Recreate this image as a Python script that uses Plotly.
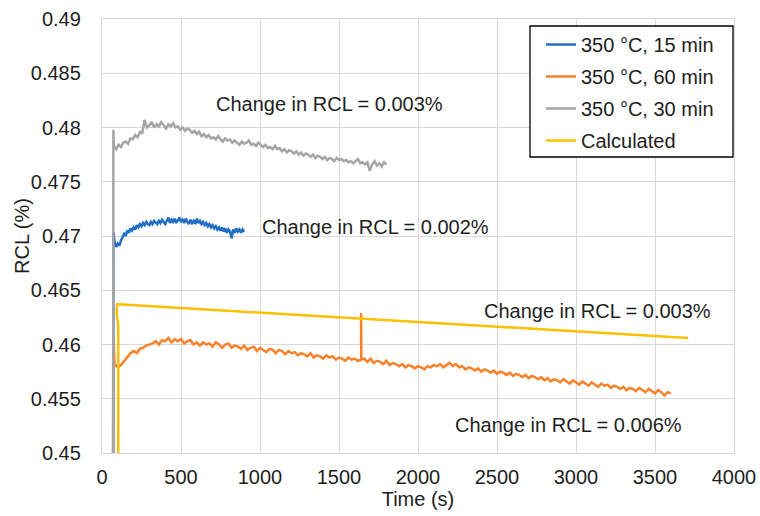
import plotly.graph_objects as go

# ---- RCL readings (%) -------------------------------------------------------
# 350 °C, 15 min : sampled every 10 s from 80 s to 900 s
blue_start, blue_end = 80, 900
blue_vals = [
    .4694, .4690, .4693, .4691, .4696, .4699, .4702, .4700, .4705, .4703,
    .4707, .4705, .4708, .4706, .4710, .4708, .4711, .4709, .4712, .4710,
    .4713, .4711, .4710, .4713, .4711, .4714, .4712, .4711, .4714, .4712,
    .4715, .4713, .4711, .4714, .4717, .4712, .4715, .4713, .4716, .4712,
    .4714, .4717, .4713, .4715, .4712, .4716, .4713, .4711, .4715, .4712,
    .4714, .4711, .4716, .4712, .4714, .4711, .4713, .4710, .4712, .4709,
    .4711, .4708, .4710, .4707, .4709, .4706, .4708, .4705, .4708, .4704,
    .4707, .4703, .4706, .4704, .4698, .4706, .4703, .4707, .4704, .4706,
    .4703, .4706, .4704,
]
blue_lead_t = [70, 72]          # heater switch-on transient
blue_lead_v = [0.440, 0.4704]

# 350 °C, 60 min : sampled every 20 s from 80 s to 3600 s
orange_start, orange_end = 80, 3600
orange_vals = [
    .4582, .4579, .4581, .4585, .4588, .4592, .4594, .4592, .4596, .4597,
    .4599, .4600, .4601, .4603, .4600, .4604, .4603, .4606, .4602, .4605,
    .4603, .4605, .4601, .4603, .4604, .4600, .4602, .4599, .4602, .4600,
    .4601, .4598, .4602, .4600, .4597, .4600, .4601, .4597, .4599, .4598,
    .4596, .4599, .4595, .4597, .4598, .4594, .4597, .4595, .4593, .4596,
    .4595, .4592, .4595, .4594, .4591, .4594, .4592, .4593, .4590, .4592,
    .4591, .4589, .4592, .4588, .4590, .4589, .4587, .4590, .4588, .4589,
    .4586, .4588, .4587, .4585, .4588, .4586, .4587, .4585, .4586, .4587,
    .4584, .4587, .4583, .4585, .4584, .4582, .4585, .4581, .4583, .4582,
    .4580, .4582, .4579, .4581, .4580, .4578, .4580, .4579, .4577, .4580,
    .4579, .4581, .4580, .4582, .4579, .4581, .4583, .4580, .4582, .4579,
    .4580, .4577, .4579, .4578, .4576, .4578, .4575, .4577, .4576, .4574,
    .4576, .4573, .4575, .4574, .4572, .4574, .4571, .4573, .4572, .4570,
    .4572, .4569, .4571, .4570, .4568, .4570, .4567, .4569, .4566, .4568,
    .4567, .4565, .4568, .4566, .4564, .4567, .4565, .4563, .4566, .4564,
    .4562, .4565, .4563, .4561, .4564, .4562, .4563, .4560, .4562, .4561,
    .4559, .4561, .4558, .4560, .4559, .4557, .4560, .4558, .4556, .4559,
    .4557, .4555, .4558, .4556, .4553, .4556, .4555,
]
orange_lead_t = [70, 72]
orange_lead_v = [0.440, 0.4606]
orange_spike_t = [1639, 1640, 1641]   # single-sample glitch in the log
orange_spike_v = [0.4586, 0.4629, 0.4586]

# 350 °C, 30 min : sampled every 15 s from 75 s to 1800 s
gray_start, gray_end = 75, 1800
gray_vals = [
    .4783, .4780, .4784, .4782, .4786, .4787, .4785, .4790, .4789, .4793,
    .4791, .4796, .4795, .4807, .4800, .4802, .4805, .4800, .4803, .4801,
    .4805, .4802, .4799, .4803, .4801, .4804, .4800, .4801, .4798, .4800,
    .4797, .4799, .4798, .4795, .4797, .4794, .4796, .4792, .4794, .4791,
    .4793, .4790, .4791, .4789, .4792, .4789, .4787, .4790, .4788, .4789,
    .4786, .4788, .4786, .4784, .4787, .4785, .4786, .4788, .4784, .4785,
    .4783, .4786, .4784, .4782, .4784, .4781, .4782, .4780, .4783, .4780,
    .4781, .4778, .4780, .4777, .4779, .4778, .4776, .4778, .4775, .4777,
    .4774, .4776, .4775, .4773, .4775, .4772, .4774, .4773, .4771, .4773,
    .4770, .4772, .4771, .4769, .4772, .4770, .4771, .4769, .4770, .4768,
    .4769, .4767, .4769, .4771, .4767, .4768, .4766, .4768, .4760, .4766,
    .4769, .4765, .4767, .4764, .4768, .4766,
]
gray_lead_t = [70, 72]
gray_lead_v = [0.440, 0.4798]

# Calculated RCL
calc_t = [103, 103, 97, 93, 94, 98, 105, 1760, 3710]
calc_v = [0.440, 0.4618, 0.4624, 0.4629, 0.4634, 0.4637, 0.4637, 0.4623, 0.4606]

# Axis ticks
x_ticks = [0, 500, 1000, 1500, 2000, 2500, 3000, 3500, 4000]
y_ticks = [0.45, 0.455, 0.46, 0.465, 0.47, 0.475, 0.48, 0.485, 0.49]
y_tick_text = ["0.45", "0.455", "0.46", "0.465", "0.47", "0.475", "0.48", "0.485", "0.49"]

# Annotations: (time, RCL, text)
notes = [
    (1437, 0.48214, "Change in RCL = 0.003%"),
    (1728, 0.47081, "Change in RCL = 0.002%"),
    (3133, 0.46308, "Change in RCL = 0.003%"),
    (2953, 0.45258, "Change in RCL = 0.006%"),
]


def time_grid(start, end, n):
    step = (end - start) / (n - 1)
    return [start + i * step for i in range(n)]


blue_t = blue_lead_t + time_grid(blue_start, blue_end, len(blue_vals))
blue_v = blue_lead_v + blue_vals

gray_t = gray_lead_t + time_grid(gray_start, gray_end, len(gray_vals))
gray_v = gray_lead_v + gray_vals

o_t = time_grid(orange_start, orange_end, len(orange_vals))
o_pairs = list(zip(o_t, orange_vals)) + list(zip(orange_spike_t, orange_spike_v))
o_pairs.sort(key=lambda p: p[0])
orange_t = orange_lead_t + [p[0] for p in o_pairs]
orange_v = orange_lead_v + [p[1] for p in o_pairs]

FONT = "Liberation Sans, Arial, sans-serif"
TXT = "#1e1e1e"
GRID = "#d9d9d9"

# plot-area frame in pixels, used to place the legend frame and y title
W, H = 760, 516
ML, MR, MT, MB = 102, 26, 19, 63
PW, PH = W - ML - MR, H - MT - MB


def px_x(p):
    return (p - ML) / PW


def px_y(p):
    return (H - MB - p) / PH


fig = go.Figure()
fig.add_trace(go.Scatter(x=blue_t, y=blue_v, mode="lines", name="350 °C, 15 min",
                         line=dict(color="#1f6fc6", width=2.5), legendgroup="a"))
fig.add_trace(go.Scatter(x=orange_t, y=orange_v, mode="lines", name="350 °C, 60 min",
                         line=dict(color="#f7822a", width=2.5), legendgroup="b"))
fig.add_trace(go.Scatter(x=gray_t, y=gray_v, mode="lines", name="350 °C, 30 min",
                         line=dict(color="#a5a5a5", width=2.5), legendgroup="c"))
fig.add_trace(go.Scatter(x=calc_t, y=calc_v, mode="lines", name="Calculated",
                         line=dict(color="#ffc000", width=2.5), legendgroup="d"))

for tx, ty, label in notes:
    fig.add_annotation(x=tx, y=ty, text=label, showarrow=False,
                       font=dict(family=FONT, size=20, color=TXT))

# y-axis title
fig.add_annotation(xref="paper", yref="paper", x=px_x(22), y=0.5, text="RCL (%)",
                   textangle=-90, showarrow=False, xanchor="center", yanchor="middle",
                   font=dict(family=FONT, size=20, color=TXT))

# legend frame
fig.add_shape(type="rect", xref="paper", yref="paper",
              x0=px_x(530), x1=px_x(733), y0=px_y(157), y1=px_y(26),
              line=dict(color="#000000", width=1.3), fillcolor="white", layer="above")

fig.update_layout(
    width=W, height=H,
    margin=dict(l=ML, r=MR, t=MT, b=MB),
    paper_bgcolor="white", plot_bgcolor="white",
    font=dict(family=FONT, size=20, color=TXT),
    showlegend=True,
    legend=dict(x=px_x(541), y=px_y(25), xanchor="left", yanchor="top",
                borderwidth=0, bgcolor="rgba(0,0,0,0)",
                font=dict(family=FONT, size=20, color=TXT),
                tracegroupgap=3),
    xaxis=dict(range=[0, 4000], tickvals=x_ticks, showgrid=True, gridcolor=GRID,
               gridwidth=1.3, zeroline=False, showline=True, linecolor=GRID,
               linewidth=1.3, mirror=True, ticks="", ticklabelstandoff=6,
               automargin=False,
               title=dict(text="Time (s)", standoff=0,
                          font=dict(family=FONT, size=20, color=TXT))),
    yaxis=dict(range=[0.45, 0.49], tickvals=y_ticks, ticktext=y_tick_text,
               showgrid=True, gridcolor=GRID, gridwidth=1.3, zeroline=False,
               showline=True, linecolor=GRID, linewidth=1.3, mirror=True,
               ticks="", ticklabelstandoff=16, automargin=False),
)

fig.write_html("out.html")
